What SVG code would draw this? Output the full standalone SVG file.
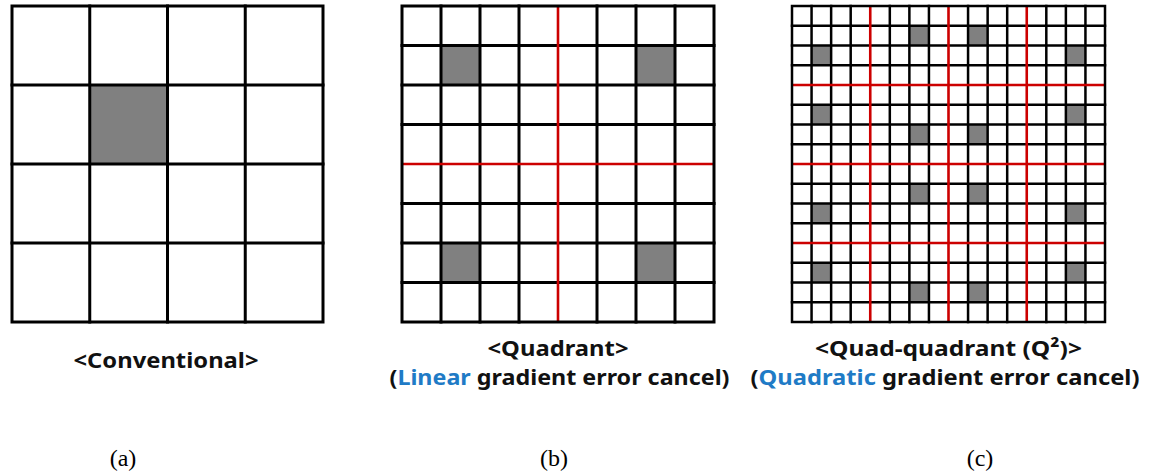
<svg xmlns="http://www.w3.org/2000/svg" width="1151" height="475" viewBox="0 0 1151 475">
<style>
.bg{fill:#ffffff}
.cell{fill:#808080}
.grid{fill:none;stroke:#000;stroke-width:3;stroke-linecap:square}
.gridc{fill:none;stroke:#000;stroke-width:2.5;stroke-linecap:square}
.red{fill:none;stroke:#cc0000;stroke-width:2.6}
.lbl{font-family:"Noto Sans","Open Sans","Liberation Sans",sans-serif;font-weight:bold;font-size:22px;fill:#111;text-anchor:middle}
.blue{fill:#1f7bc6}
.cap{font-family:"Liberation Serif","Times New Roman",serif;font-size:24px;fill:#000;text-anchor:middle}
</style>
<rect class="bg" x="0" y="0" width="1151" height="475"/>

<g id="grid-a">
  <rect class="cell" x="89.75" y="85" width="77.75" height="79"/>
  <path class="grid" d="M89.75 6V322M167.5 6V322M245.25 6V322M12 85H323M12 164H323M12 243H323"/>
  <rect class="grid" x="12" y="6" width="311" height="316"/>
</g>

<g id="grid-b">
  <rect class="cell" x="441" y="45.5" width="39" height="39.5"/>
  <rect class="cell" x="636" y="45.5" width="39" height="39.5"/>
  <rect class="cell" x="441" y="243" width="39" height="39.5"/>
  <rect class="cell" x="636" y="243" width="39" height="39.5"/>
  <path class="grid" d="M441 6V322M480 6V322M519 6V322M597 6V322M636 6V322M675 6V322M402 45.5H714M402 85H714M402 124.5H714M402 203.5H714M402 243H714M402 282.5H714"/>
  <path class="red" d="M558 6V322M402 164H714"/>
  <rect class="grid" x="402" y="6" width="312" height="316"/>
</g>

<g id="grid-c">
  <rect class="cell" x="909.38" y="25.75" width="19.56" height="19.75"/>
  <rect class="cell" x="968.06" y="25.75" width="19.56" height="19.75"/>
  <rect class="cell" x="811.56" y="45.5" width="19.56" height="19.75"/>
  <rect class="cell" x="1065.88" y="45.5" width="19.56" height="19.75"/>
  <rect class="cell" x="811.56" y="104.75" width="19.56" height="19.75"/>
  <rect class="cell" x="1065.88" y="104.75" width="19.56" height="19.75"/>
  <rect class="cell" x="909.38" y="124.5" width="19.56" height="19.75"/>
  <rect class="cell" x="968.06" y="124.5" width="19.56" height="19.75"/>
  <rect class="cell" x="909.38" y="183.75" width="19.56" height="19.75"/>
  <rect class="cell" x="968.06" y="183.75" width="19.56" height="19.75"/>
  <rect class="cell" x="811.56" y="203.5" width="19.56" height="19.75"/>
  <rect class="cell" x="1065.88" y="203.5" width="19.56" height="19.75"/>
  <rect class="cell" x="811.56" y="262.75" width="19.56" height="19.75"/>
  <rect class="cell" x="1065.88" y="262.75" width="19.56" height="19.75"/>
  <rect class="cell" x="909.38" y="282.5" width="19.56" height="19.75"/>
  <rect class="cell" x="968.06" y="282.5" width="19.56" height="19.75"/>
  <path class="gridc" d="M811.56 6V322M831.13 6V322M850.69 6V322M889.81 6V322M909.38 6V322M928.94 6V322M968.06 6V322M987.63 6V322M1007.19 6V322M1046.31 6V322M1065.88 6V322M1085.44 6V322M792 25.75H1105M792 45.5H1105M792 65.25H1105M792 104.75H1105M792 124.5H1105M792 144.25H1105M792 183.75H1105M792 203.5H1105M792 223.25H1105M792 262.75H1105M792 282.5H1105M792 302.25H1105"/>
  <path class="red" d="M870.25 6V322M948.5 6V322M1026.75 6V322M792 85H1105M792 164H1105M792 243H1105"/>
  <rect class="gridc" x="792" y="6" width="313" height="316"/>
</g>

<g id="label-a">
  <text class="lbl" x="166" y="368" textLength="185" lengthAdjust="spacingAndGlyphs">&lt;Conventional&gt;</text>
  <text class="cap" x="123" y="466">(a)</text>
</g>
<g id="label-b">
  <text class="lbl" x="558" y="356" textLength="141" lengthAdjust="spacingAndGlyphs">&lt;Quadrant&gt;</text>
  <text class="lbl" x="559.5" y="385" textLength="340" lengthAdjust="spacingAndGlyphs">(<tspan class="blue">Linear</tspan> gradient error cancel)</text>
  <text class="cap" x="554" y="466">(b)</text>
</g>
<g id="label-c">
  <text class="lbl" x="948.5" y="356" textLength="267" lengthAdjust="spacingAndGlyphs">&lt;Quad-quadrant (Q²)&gt;</text>
  <text class="lbl" x="945" y="385" textLength="389" lengthAdjust="spacingAndGlyphs">(<tspan class="blue">Quadratic</tspan> gradient error cancel)</text>
  <text class="cap" x="980" y="466">(c)</text>
</g>
</svg>
